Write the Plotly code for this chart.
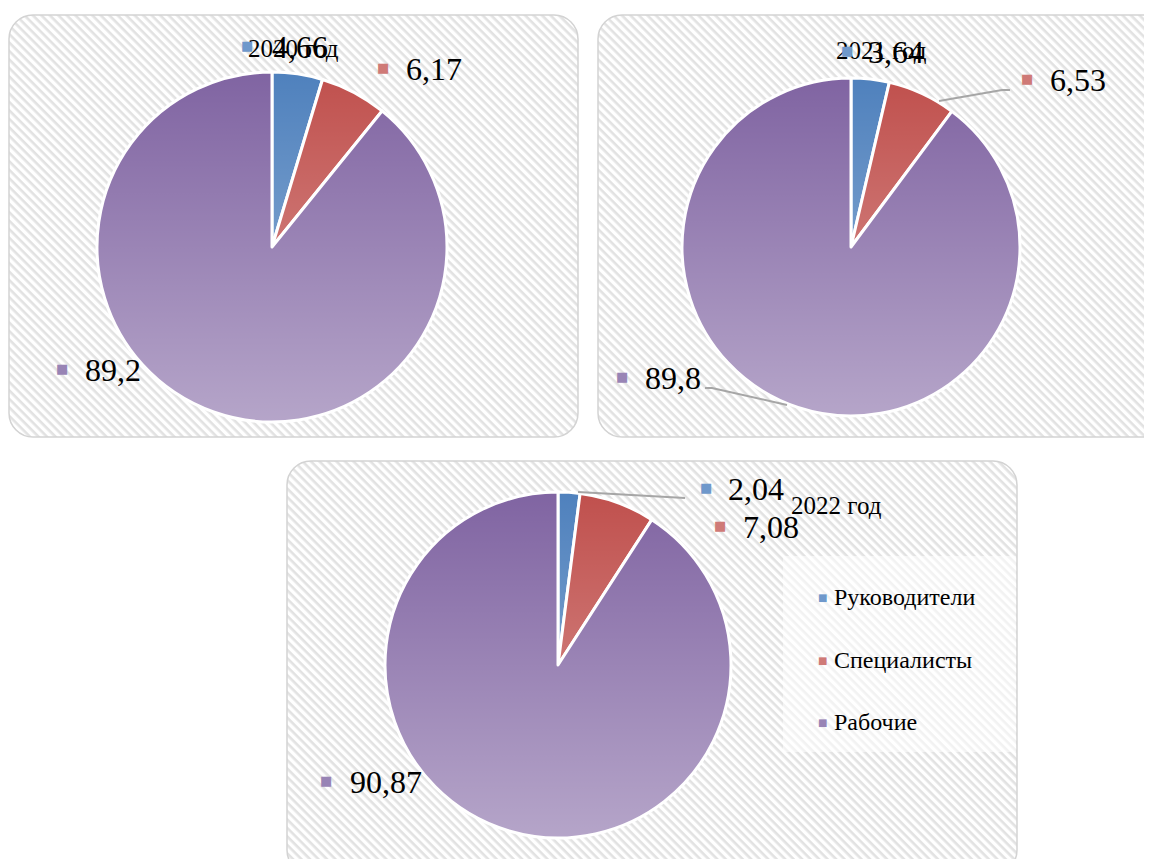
import base64
import plotly.graph_objects as go

W, H = 1152, 859
OFF = 8  # page body margin in the browser

# data
labels = ["Руководители", "Специалисты", "Рабочие"]
years = ["2020 год", "2021 год", "2022 год"]
v2020 = [4.66, 6.17, 89.2]
v2021 = [3.64, 6.53, 89.8]
v2022 = [2.04, 7.08, 90.87]
values = [v2020, v2021, v2022]

colors = ["#4F81BD", "#C0504D", "#8064A2"]
key_colors = ["#6F98CB", "#CF7A77", "#9884B5"]
FONT = "Liberation Serif, Times New Roman, serif"


def px(x):
    return (x - OFF) / W


def py(y):
    return 1 - (y - OFF) / H


def svg_uri(svg):
    return "data:image/svg+xml;base64," + base64.b64encode(svg.encode()).decode()


def panel_svg(w, h):
    return svg_uri(
        f'<svg xmlns="http://www.w3.org/2000/svg" width="{w}" height="{h}" viewBox="0 0 {w} {h}">'
        '<defs><pattern id="p" width="6" height="6" patternUnits="userSpaceOnUse" patternTransform="rotate(45)">'
        '<rect width="6" height="6" fill="#ffffff"/><rect width="6" height="2.6" fill="#e2e2e2"/></pattern></defs>'
        f'<rect x="1" y="1" width="{w-2}" height="{h-2}" rx="24" ry="24" fill="url(#p)" stroke="#d3d3d3" stroke-width="1.5"/>'
        '</svg>')


shade = svg_uri(
    '<svg xmlns="http://www.w3.org/2000/svg" width="100" height="100" viewBox="0 0 100 100">'
    '<defs><linearGradient id="g" x1="0" y1="0" x2="0" y2="1">'
    '<stop offset="0" stop-color="#fff" stop-opacity="0"/>'
    '<stop offset="1" stop-color="#fff" stop-opacity="0.42"/></linearGradient></defs>'
    '<circle cx="50" cy="50" r="50" fill="url(#g)"/></svg>')

# pie centres / radii in pixels (screen)
pies = [(272, 247, 175), (851, 247, 169), (558, 665, 173)]
panels = [(8, 14, 571, 424), (597, 14, 575, 424), (286, 460, 732, 415)]

fig = go.Figure()
images = []
for i, (cx, cy, r) in enumerate(pies):
    fig.add_trace(go.Pie(
        labels=labels, values=values[i], sort=False, direction="clockwise", rotation=0,
        marker=dict(colors=colors, line=dict(color="white", width=3)),
        textinfo="none", hoverinfo="label+value", showlegend=False,
        domain=dict(x=[px(cx - r), px(cx + r)], y=[py(cy + r), py(cy - r)]),
    ))
    images.append(dict(source=shade, xref="paper", yref="paper", x=px(cx - r), y=py(cy - r),
                       sizex=2 * r / W, sizey=2 * r / H, xanchor="left", yanchor="top",
                       sizing="stretch", layer="above"))

for (x0, y0, w, h) in panels:
    images.append(dict(source=panel_svg(w, h), xref="paper", yref="paper", x=px(x0), y=py(y0),
                       sizex=w / W, sizey=h / H, xanchor="left", yanchor="top",
                       sizing="stretch", layer="below"))

ann = []
# titles
title_pos = [(293, 48), (881, 51), (836, 505)]
for t, (x, y) in zip(years, title_pos):
    ann.append(dict(text=t, x=px(x), y=py(y), xref="paper", yref="paper", showarrow=False,
                    xanchor="center", yanchor="middle", font=dict(family=FONT, size=25, color="black")))

# data labels: (square x, square y, text left x)
label_pos = [
    [(247, 45, 270), (383, 67, 404), (62, 368, 83)],
    [(847, 50, 866), (1027, 78, 1048), (622, 376, 643)],
    [(706, 487, 726), (720, 525, 741), (326, 780, 348)],
]
for i, vals in enumerate(values):
    for j, v in enumerate(vals):
        sx, sy, tx = label_pos[i][j]
        ann.append(dict(text="■", x=px(sx), y=py(sy), xref="paper", yref="paper", showarrow=False,
                        xanchor="center", yanchor="middle",
                        font=dict(family="DejaVu Sans", size=13, color=key_colors[j])))
        ann.append(dict(text=f"{v:g}".replace(".", ","), x=px(tx), y=py(sy + 2), xref="paper",
                        yref="paper", showarrow=False, xanchor="left", yanchor="middle",
                        font=dict(family=FONT, size=32, color="black")))

# legend
leg_y = [597, 660, 722]
for j, lab in enumerate(labels):
    ann.append(dict(text="■", x=px(822), y=py(leg_y[j]), xref="paper", yref="paper", showarrow=False,
                    xanchor="center", yanchor="middle",
                    font=dict(family="DejaVu Sans", size=10, color=key_colors[j])))
    ann.append(dict(text=lab, x=px(832), y=py(leg_y[j]), xref="paper", yref="paper", showarrow=False,
                    xanchor="left", yanchor="middle", font=dict(family=FONT, size=24, color="black")))

# leader lines
leaders = [
    [(939, 101), (1002, 90), (1010, 90)],
    [(787, 405), (712, 388), (705, 388)],
    [(578, 492), (685, 498)],
]
shapes = []
for pts in leaders:
    path = "M " + " L ".join(f"{px(x)},{py(y)}" for x, y in pts)
    shapes.append(dict(type="path", xref="paper", yref="paper", path=path,
                       line=dict(color="#a6a6a6", width=2), layer="above"))

# legend box (light background)
shapes.append(dict(type="rect", xref="paper", yref="paper", x0=px(783), x1=px(1016),
                   y0=py(752), y1=py(556), fillcolor="rgba(255,255,255,0.55)",
                   line=dict(width=0), layer="below"))

fig.update_layout(
    width=W, height=H, margin=dict(l=0, r=0, t=0, b=0),
    paper_bgcolor="white", plot_bgcolor="white",
    images=images, annotations=ann, shapes=shapes,
)

fig.write_html("out.html")
